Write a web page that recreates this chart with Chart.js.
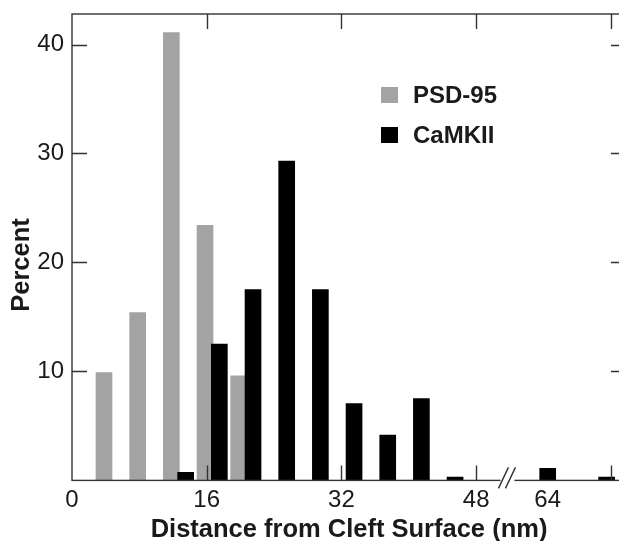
<!DOCTYPE html>
<html>
<head>
<meta charset="utf-8">
<script src="https://cdn.jsdelivr.net/npm/chart.js@4/dist/chart.umd.min.js"></script>
<style>
  html, body { margin: 0; padding: 0; background: #fff; overflow: hidden; }
  #wrap { width: 619px; height: 541px; overflow: hidden; }
</style>
</head>
<body>
<div id="wrap"><canvas id="histChart" width="640" height="541"></canvas></div>
<script>
// distances in nm (bar centres), percent values
const psdDist = [3.8, 7.8, 11.8, 15.8, 19.8];
const psdPercent = [9.9, 15.4, 41.1, 23.4, 9.6];
const camDist = [13.5, 17.5, 21.5, 25.5, 29.5, 33.5, 37.5, 41.5, 45.5, 64, 71];
const camPercent = [0.75, 12.5, 17.5, 29.3, 17.5, 7.05, 4.15, 7.5, 0.3, 1.1, 0.3];
const xTickLabels = [0, 16, 32, 48, 64];
const yTickLabels = [10, 20, 30, 40];

// axis break after 48 nm, the part beyond it is shifted left
const breakAt = 48;
const breakShift = 7.5;
const toAxis = nm => nm > breakAt ? nm - breakShift : nm;

const psdColor = '#a3a3a3';
const camColor = '#000000';
const lineColor = '#333333';
const textColor = '#1a1a1a';

const framePlugin = {
    id: 'frame',
    afterDatasetsDraw(chart) {
        const { ctx, chartArea: a, scales } = chart;
        const xs = scales.x, ys = scales.y;
        const tick = 15;
        ctx.save();
        ctx.strokeStyle = lineColor;
        ctx.lineWidth = 1.4;
        ctx.strokeRect(a.left, a.top, a.right - a.left, a.bottom - a.top);

        // inward ticks, every 16 on the axis
        ctx.beginPath();
        for (let v = 16; v <= xs.max; v += 16) {
            const px = Math.round(xs.getPixelForValue(v)) + 0.5;
            ctx.moveTo(px, a.bottom); ctx.lineTo(px, a.bottom - tick);
            ctx.moveTo(px, a.top); ctx.lineTo(px, a.top + tick);
        }
        yTickLabels.forEach(v => {
            const py = Math.round(ys.getPixelForValue(v)) + 0.5;
            ctx.moveTo(a.left, py); ctx.lineTo(a.left + tick, py);
            ctx.moveTo(a.right, py); ctx.lineTo(a.right - tick, py);
        });
        ctx.stroke();

        // axis break marks
        const bx = xs.getPixelForValue(breakAt + 3.6);
        ctx.fillStyle = '#fff';
        ctx.fillRect(bx - 6, a.bottom - 3, 14, 6);
        ctx.beginPath();
        ctx.moveTo(bx - 8, a.bottom + 8); ctx.lineTo(bx + 2, a.bottom - 13);
        ctx.moveTo(bx - 1, a.bottom + 8); ctx.lineTo(bx + 9, a.bottom - 13);
        ctx.stroke();

        // tick labels
        ctx.fillStyle = textColor;
        ctx.font = '24px "Liberation Sans", Arial, sans-serif';
        ctx.textAlign = 'center';
        ctx.textBaseline = 'middle';
        xTickLabels.forEach(v => {
            ctx.fillText(String(v), xs.getPixelForValue(toAxis(v)), a.bottom + 20);
        });
        ctx.textAlign = 'right';
        yTickLabels.forEach(v => {
            ctx.fillText(String(v), a.left - 8, ys.getPixelForValue(v));
        });

        // axis titles
        ctx.font = 'bold 25.5px "Liberation Sans", Arial, sans-serif';
        ctx.textAlign = 'center';
        ctx.fillText('Distance from Cleft Surface (nm)', 349, 530);
        ctx.save();
        ctx.translate(22, 265);
        ctx.rotate(-Math.PI / 2);
        ctx.fillText('Percent', 0, 0);
        ctx.restore();

        // legend
        ctx.font = 'bold 24px "Liberation Sans", Arial, sans-serif';
        ctx.textAlign = 'left';
        chart.data.datasets.slice().sort((p, q) => p.legendRank - q.legendRank).forEach((ds, i) => {
            const y = 95 + i * 40;
            ctx.fillStyle = ds.backgroundColor;
            ctx.fillRect(381, y - 8, 17, 16);
            ctx.fillStyle = textColor;
            ctx.fillText(ds.label, 413, y + 1);
        });
        ctx.restore();
    }
};

const ctx = document.getElementById('histChart').getContext('2d');
const chart = new Chart(ctx, {
    type: 'bar',
    data: {
        datasets: [{
            label: 'PSD-95',
            legendRank: 0,
            data: psdDist.map((d, i) => ({ x: toAxis(d), y: psdPercent[i] })),
            backgroundColor: psdColor,
            order: 2
        }, {
            label: 'CaMKII',
            legendRank: 1,
            data: camDist.map((d, i) => ({ x: toAxis(d), y: camPercent[i] })),
            backgroundColor: camColor,
            order: 1
        }]
    },
    options: {
        responsive: false,
        animation: false,
        devicePixelRatio: 1,
        layout: { padding: { left: 72, right: 14, top: 14, bottom: 60.6 } },
        datasets: { bar: { barThickness: 16, grouped: false, borderWidth: 0 } },
        scales: {
            x: { type: 'linear', min: 0, max: 65.8, offset: false, display: false },
            y: { min: 0, max: 42.8, display: false }
        },
        plugins: { legend: { display: false }, tooltip: { enabled: false } }
    },
    plugins: [framePlugin]
});
</script>
</body>
</html>
